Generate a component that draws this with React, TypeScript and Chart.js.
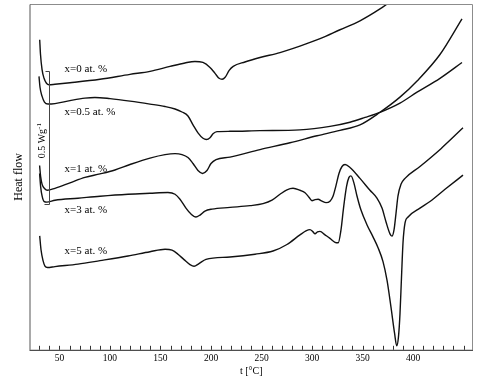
import React, { useEffect, useRef } from 'react';
import { Chart, registerables } from 'chart.js';

Chart.register(...registerables);

// Temperatures (°C) and heat flow (arbitrary units, larger = up)
const tempX0 = [30.4, 31.2, 32.7, 34.7, 37.1, 39.6, 45.5, 60.4, 90.1, 119.8, 139.6, 159.4, 174.2, 184.1, 192, 199, 204, 208, 211, 214, 218, 222, 233.6, 248.5, 268.3, 288, 308, 327.7, 347.5, 367.3, 377];
const flowX0 = [313, 298, 283, 274, 269, 267.5, 268, 269.5, 273, 278, 281, 286, 289.5, 291, 290, 285, 279, 274, 273, 275, 282, 286, 290.5, 295, 300, 306.5, 314, 323, 332, 344, 351];

const tempX05 = [29.7, 30.7, 32.7, 35.1, 38.6, 45.5, 60.4, 75.2, 85.1, 100, 119.8, 139.6, 154.5, 164.4, 171.3, 177.2, 182.2, 187.1, 192.1, 195.5, 199, 202, 205.9, 218.8, 248.5, 288, 317.8, 337.6, 352.5, 367.3, 387.1, 404, 426.7, 448.5];
const flowX05 = [276, 265, 256, 250, 248, 248.5, 251.5, 254, 254.7, 253.5, 251, 248, 245.5, 243, 240, 236, 227, 219, 213.5, 212.3, 214, 218, 220.2, 220.5, 221.2, 222, 225.5, 229.7, 234.5, 239.7, 249, 260, 274, 290];

const tempX1 = [30.3, 31.3, 32.8, 35.4, 37.9, 45.5, 60.4, 75.2, 90.1, 104.9, 119.8, 139.6, 154.5, 164.4, 171.3, 177.2, 182.2, 187.1, 191.6, 196, 200, 205, 218.8, 248.5, 278.2, 305, 327.7, 347.5, 367.3, 387.1, 404, 426.7, 448.5];
const flowX1 = [186, 175, 167, 162.5, 161, 163, 168.5, 174, 177.5, 181.5, 187, 193.5, 197, 198, 197, 194, 188, 181, 178, 181, 188, 192, 194.5, 202, 209, 216, 221.5, 227, 239.7, 255, 271.3, 298, 334];

const tempX3 = [30.3, 31.3, 32.8, 34.9, 37.4, 45.5, 68.3, 90.1, 117.8, 139.6, 157.4, 164.4, 169.3, 175.2, 180.2, 185.1, 189.1, 194, 201, 218.8, 238.6, 251.5, 260.4, 268.3, 275.2, 281.2, 288.1, 293.1, 297, 300, 303, 306, 309.9, 313.9, 317.8, 320.8, 323.8, 326.7, 329.7, 332.7, 337.6, 347.5, 357.4, 364.3, 369.3, 373.3, 377.2, 379.2, 381.2, 383.2, 385.1, 388.1, 392.1, 406.9, 427.7, 449.5];
const flowX3 = [178, 165, 155, 149.5, 149, 151, 153, 155, 157, 158, 158.7, 157, 152, 143, 137, 134, 136, 140, 142, 143.7, 145.5, 147.5, 151, 157, 161.5, 163, 161, 158.5, 154, 150.5, 151.5, 152, 150, 148.5, 150, 155, 166, 178, 185, 187, 184, 173, 161, 153, 143, 129, 117, 114.7, 121, 138, 155, 167, 173, 185, 203, 224];

const tempX5 = [30.4, 31.7, 33.7, 35.6, 38.1, 45.5, 68.3, 90.1, 117.8, 139.6, 154.5, 161.4, 167.3, 173.3, 179.2, 183.2, 188.1, 195, 218.8, 243.6, 261.4, 275.2, 288.1, 294, 298, 301, 303, 305.4, 307.9, 312.9, 317.8, 322.8, 326, 328.7, 331.2, 334.2, 336.6, 338.6, 341.6, 344.6, 348.5, 354.5, 360.4, 365.4, 370.3, 374.3, 378.2, 381.7, 383.9, 385.6, 387.1, 388.6, 390.1, 392.1, 395.1, 406.9, 416.8, 431.7, 449.5];
const flowX5 = [115, 101, 90, 84.5, 83, 84, 86.5, 90, 94.7, 99, 101.5, 100.5, 96.5, 91, 86, 84.3, 87, 91.3, 93.7, 96.5, 99.7, 106.3, 116, 120, 121.3, 119, 117, 119, 119.5, 116, 112.5, 108.5, 108, 121, 143, 165, 174, 175.5, 168, 155, 141, 126, 114, 103, 89, 70, 43, 17, 4, 13, 36, 73, 108, 128, 134, 143, 149.7, 162, 176.3];

const seriesNames = ['x=0 at. %', 'x=0.5 at. %', 'x=1 at. %', 'x=3 at. %', 'x=5 at. %'];
const seriesTemps = [tempX0, tempX05, tempX1, tempX3, tempX5];
const seriesFlows = [flowX0, flowX05, flowX1, flowX3, flowX5];

// label anchor positions (data coordinates)
const labelTemp = [55, 55, 55, 55, 55];
const labelFlow = [283, 239.5, 182, 141.3, 99.7];

const xTickLabels = [50, 100, 150, 200, 250, 300, 350, 400, 450];
const xMin = 20.3;
const xMax = 459.4;
const yMin = 0;
const yMax = 349;

// scale bar: 0.5 W/g
const scaleBarTemp = 40;
const scaleBarTop = 281;
const scaleBarBottom = 147;

const SERIF = '"Liberation Serif", "Times New Roman", serif';

const annotPlugin = {
  id: 'annot',
  afterDatasetsDraw(chart: any) {
    const { ctx, chartArea: a, scales } = chart;
    const x = scales.x;
    const y = scales.y;
    ctx.save();
    // frame
    ctx.lineWidth = 1;
    ctx.strokeStyle = '#8c8c8c';
    ctx.beginPath();
    ctx.moveTo(a.right - 0.5, a.bottom);
    ctx.lineTo(a.right - 0.5, a.top + 0.5);
    ctx.lineTo(a.left + 0.5, a.top + 0.5);
    ctx.stroke();
    ctx.strokeStyle = '#555';
    ctx.beginPath();
    ctx.moveTo(a.left + 0.5, a.top + 0.5);
    ctx.lineTo(a.left + 0.5, a.bottom);
    ctx.stroke();
    ctx.strokeStyle = '#222';
    ctx.beginPath();
    ctx.moveTo(a.left, a.bottom + 0.5);
    ctx.lineTo(a.right, a.bottom + 0.5);
    ctx.stroke();
    // inward minor ticks every 10 °C
    ctx.strokeStyle = '#333';
    ctx.beginPath();
    for (let t = 30; t <= 450; t += 10) {
      const px = Math.round(x.getPixelForValue(t)) + 0.5;
      ctx.moveTo(px, a.bottom);
      ctx.lineTo(px, a.bottom - 4);
    }
    ctx.stroke();
    // scale bar
    const sx = Math.round(x.getPixelForValue(scaleBarTemp)) + 0.5;
    const sy1 = Math.round(y.getPixelForValue(scaleBarTop)) + 0.5;
    const sy2 = Math.round(y.getPixelForValue(scaleBarBottom)) + 0.5;
    ctx.strokeStyle = '#444';
    ctx.beginPath();
    ctx.moveTo(sx - 4, sy1);
    ctx.lineTo(sx, sy1);
    ctx.lineTo(sx, sy2);
    ctx.lineTo(sx - 5, sy2);
    ctx.stroke();
    // scale bar text rotated
    ctx.fillStyle = '#000';
    const main = '0.5 Wg';
    const sup = '-1';
    ctx.font = `10px ${SERIF}`;
    const w1 = ctx.measureText(main).width;
    ctx.font = `7px ${SERIF}`;
    const w2 = ctx.measureText(sup).width;
    const cx = x.getPixelForValue(32);
    const cy = y.getPixelForValue(211);
    ctx.translate(cx, cy);
    ctx.rotate(-Math.PI / 2);
    ctx.textBaseline = 'middle';
    ctx.textAlign = 'left';
    const start = -(w1 + w2) / 2;
    ctx.font = `10px ${SERIF}`;
    ctx.fillText(main, start, 1);
    ctx.font = `7px ${SERIF}`;
    ctx.fillText(sup, start + w1, -2.5);
    ctx.setTransform(1, 0, 0, 1, 0, 0);
    // series labels
    ctx.font = `11px ${SERIF}`;
    ctx.textAlign = 'left';
    ctx.textBaseline = 'middle';
    ctx.fillStyle = '#000';
    seriesNames.forEach((n, i) => {
      ctx.fillText(n, x.getPixelForValue(labelTemp[i]), y.getPixelForValue(labelFlow[i]));
    });
    ctx.restore();
  },
};

export default function App() {
  const ref = useRef<HTMLCanvasElement | null>(null);
  useEffect(() => {
    document.body.style.margin = '0';
    const canvas = ref.current;
    if (!canvas) return;
    const datasets = seriesNames.map((n, i) => ({
      label: n,
      data: seriesTemps[i].map((t, j) => ({ x: t, y: seriesFlows[i][j] })),
      borderColor: '#111',
      borderWidth: 1.4,
      pointRadius: 0,
      fill: false,
      cubicInterpolationMode: 'monotone' as const,
    }));
    const chart = new Chart(canvas, {
      type: 'line',
      data: { datasets },
      options: {
        animation: false,
        responsive: true,
        maintainAspectRatio: false,
        devicePixelRatio: 1,
        layout: { padding: { left: 7.1, right: 4, top: 4, bottom: 0 } },
        plugins: { legend: { display: false }, tooltip: { enabled: false } },
        scales: {
          x: {
            type: 'linear',
            min: xMin,
            max: xMax,
            grid: { display: false, drawTicks: false },
            border: { display: false },
            ticks: {
              stepSize: 10,
              autoSkip: false,
              maxRotation: 0,
              padding: 3,
              color: '#000',
              font: { family: SERIF, size: 9.5 },
              callback: (v: any) => {
                const r = Math.round(Number(v));
                return Math.abs(Number(v) - r) < 1e-6 && xTickLabels.includes(r) ? String(r) : '';
              },
            },
            title: {
              display: true,
              text: 't [°C]',
              color: '#000',
              font: { family: SERIF, size: 10 },
              padding: { top: -1.5, bottom: 3.3 },
            },
          },
          y: {
            type: 'linear',
            min: yMin,
            max: yMax,
            grid: { display: false, drawTicks: false },
            border: { display: false },
            ticks: { display: false },
            title: {
              display: true,
              text: 'Heat flow',
              color: '#000',
              font: { family: SERIF, size: 12 },
              padding: { top: 5, bottom: 3 },
            },
          },
        },
      },
      plugins: [annotPlugin],
    });
    return () => chart.destroy();
  }, []);
  return (
    <div style={{ position: 'absolute', left: 0, top: 0, width: 477, height: 381 }}>
      <canvas ref={ref} />
    </div>
  );
}
